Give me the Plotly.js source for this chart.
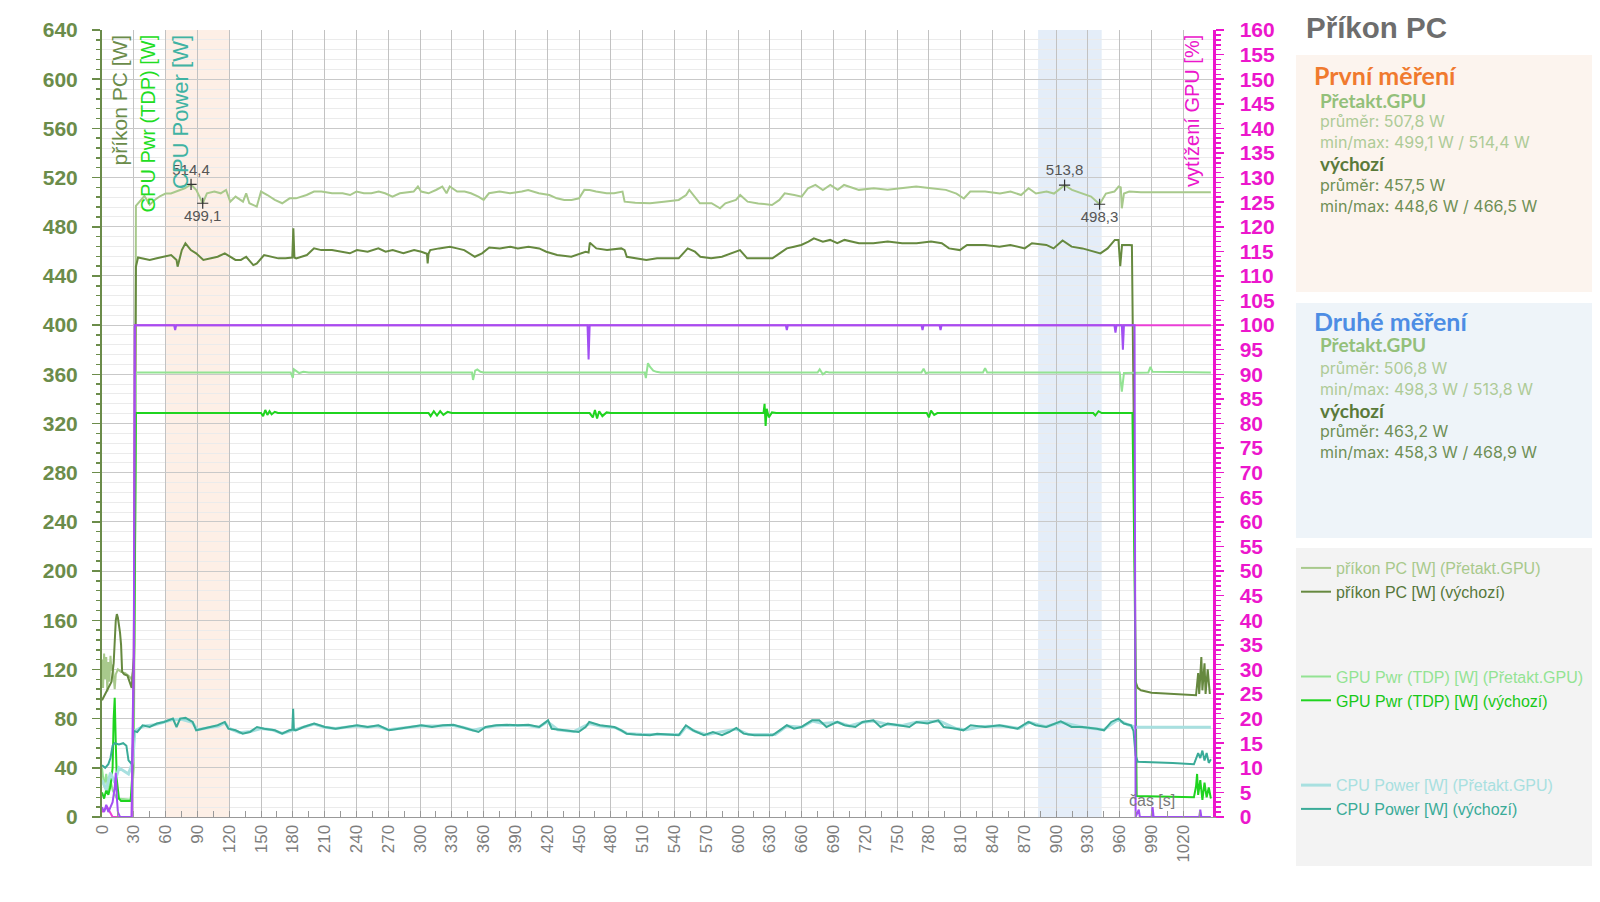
<!DOCTYPE html>
<html>
<head>
<meta charset="utf-8">
<script src="https://cdn.plot.ly/plotly-3.0.1.min.js"></script>
<style>html,body{margin:0;padding:0;background:#fff}#chart{width:1600px;height:902px}</style>
</head>
<body>
<div id="chart"></div>
<script>
// ---------- DATA (time [s], value) ----------
const pcOc = [[0,128],[1,105],[2,133],[3,112],[4,130],[5,102],[6,126],[7,110],[8,131],[9,119],[10,124],[12,104],[13,116],[15,120],[18,118],[22,117],[26,114],[28,112],[30,122],[31,140],[32,497],[35,500],[40,505],[45,498],[50,502],[55,505],[60,507],[65,507],[70,508.6],[75,510],[78,511.3],[84,514.4],[89,509.9],[95,499.1],[99,507.2],[106,508.6],[112,507.2],[117,509.9],[121,500.4],[126,504.5],[133,500.4],[136,507.2],[139,499.1],[146,496.4],[150,508.6],[156,505.8],[163,501.8],[170,499.1],[177,503.1],[183,503.1],[193,505.8],[200,508.6],[207,508.6],[217,507.2],[227,507.2],[234,505.8],[240,508.6],[247,507.2],[254,507.2],[261,508.6],[267,507.2],[274,504.5],[281,507.2],[294,508.6],[298,512.7],[301,508.6],[308,507.2],[315,509.9],[321,512.7],[325,507.2],[328,512.7],[335,508.6],[342,508.6],[348,507.2],[355,504.5],[360,501.8],[365,507.2],[375,508.6],[385,507.2],[396,508.6],[402,509.9],[412,507.2],[422,505.8],[429,503.1],[436,501.8],[443,501.8],[450,503.1],[455,510],[460,509.9],[466,508.6],[476,507.2],[483,507.2],[491,508.6],[493,500.4],[503,499.6],[517,499.1],[524,499.6],[530,500.4],[544,501.8],[551,505.8],[554,509.9],[559,504.5],[564,499.1],[575,499.1],[583,495],[588,499],[598,501.8],[602,505.8],[609,500.4],[619,499],[632,497.7],[639,501.8],[644,507.2],[653,505.8],[660,504.5],[666,511.3],[673,514],[680,509.9],[687,514],[694,510],[700,514],[714,510],[728,511.3],[741,510],[755,511.3],[768,512.7],[782,511.3],[796,510],[806,507],[813,503],[819,508.6],[833,508.6],[847,507],[857,508.6],[867,505.8],[874,511.3],[881,507],[891,508.6],[898,507],[908,513.8],[915,510],[925,507],[933,504.5],[941,498.3],[947,507],[955,508.6],[959,512.7],[961,512],[962,495],[964,507],[969,508.6],[980,508],[1000,508],[1020,508],[1046,508]];

const pcDef = [[0,95],[3,100],[6,104],[9,110],[11,125],[13,160],[14,165],[15,162],[17,150],[18,140],[19,118],[21,116],[24,115],[26,110],[28,105],[30,130],[31,300],[32,447.5],[34,455],[38.3,454.3],[45,453],[51.7,454.3],[58.5,455.6],[65.2,457],[70.3,453],[71.3,447.5],[75.3,461],[78.7,466.5],[83.8,461],[88.8,458.4],[95.6,453],[102.3,454.3],[109.1,455.6],[115.8,458.4],[120.8,455.6],[125.9,453],[131,453],[136,455.6],[142.7,448.8],[146.1,450.2],[152.9,457],[159.6,455.6],[166.3,454.3],[173.1,454.3],[179.5,455],[180.5,478.7],[181.5,455],[183.2,454.3],[193.3,457],[200,462.4],[206.8,461],[216.9,461],[227,459.7],[233.8,458.4],[240.5,461],[250.6,459.7],[260.7,462.4],[267.5,459.7],[274.2,461],[284.3,458.4],[294.4,461],[301.2,459.7],[306.5,458],[307.2,450.2],[308,458],[309.6,461],[318,462.4],[328.2,463.8],[334.9,462.4],[341.7,461],[351.7,455.6],[358.5,458.4],[365.3,463.2],[375.3,462.4],[385.4,463.8],[392.2,462.4],[402.3,463.8],[412.4,462.4],[419.1,459.7],[429.3,457],[442.7,455.6],[451.2,458.4],[456.2,459.7],[459,459],[460.2,467],[466.3,462.4],[476.4,461],[489.9,462.4],[493,461],[495,455.6],[503.4,454.3],[513.5,453],[523.6,454.3],[544,454.3],[552.5,462.4],[559.3,459.7],[564.4,455.6],[574.6,454.3],[584.8,455.6],[598.4,459.7],[601.8,461],[608.6,454.3],[632.4,454.3],[639.2,458.4],[646,462.4],[652.8,463.8],[659.6,465.2],[666.4,467.9],[671.5,470.6],[680,467.9],[686.8,469.3],[693.6,466.6],[700.4,469.3],[714,466.6],[727.6,466.6],[741.2,467.9],[754.8,466.6],[768.4,466.6],[782,468],[792.2,466.6],[799,462.4],[809.2,461],[816,465.2],[833,465.2],[846.6,463.8],[856.8,465.2],[870.4,462.4],[877.2,466.6],[890.8,465.2],[897.6,462.4],[906.1,468.9],[914.6,463.8],[924.8,462.4],[941.8,458.3],[948.6,462.4],[955.4,469.3],[958.8,469.3],[960.5,448],[962.2,465.2],[969,465.2],[971.5,465],[973.5,300],[975,110],[977,105],[980,103],[990,101],[1000,100.5],[1010,100],[1020,99.5],[1032,99],[1034,117],[1035,100],[1037,130],[1038,103],[1040,125],[1041,100],[1043,120],[1045,100]];

const gpuOc = [[0,40],[2,25],[4,35],[6,20],[8,30],[10,22],[12,18],[14,15],[28,14],[30,40],[31,200],[32,361.5],[178,361.5],[180,357],[181,364],[183,362.5],[186,361],[190,362],[195,361.5],[349,361.5],[350,355.4],[352,363],[354,364],[357,362],[360,361.5],[512,361.5],[513,357],[515,369],[517,366],[520,363],[523,362],[527,361.5],[675,361.5],[677,364],[680,360],[683,362],[686,361.5],[773,361.5],[775,364.5],[777,361],[780,361.5],[831,361.5],[833,365],[835,361.5],[960,361.5],[962,346],[964,361],[987,361.5],[989,366],[991,362],[1046,361.5]];

const gpuDef = [[0,20],[2,15],[4,22],[6,18],[8,25],[10,40],[11,80],[12,97],[13,60],[14,30],[16,15],[18,13],[27,13],[29,40],[31,200],[32,328.5],[150,328.5],[152,326],[154,331],[156,327],[158,330],[160,327.5],[163,329.5],[166,328.5],[308,328.5],[310,326],[313,330],[316,326.5],[319,330],[322,327],[326,329.5],[330,328.5],[460,328.5],[463,325],[465,331],[467,324],[469,330],[472,326],[476,329],[480,328.5],[624,328.5],[625,336],[626,318],[627,332],[629,325],[632,329],[636,328.5],[778,328.5],[780,325],[782,330.5],[785,327],[788,328.5],[935,328.5],[937,326.5],[940,330],[943,328.5],[972,328.5],[974,200],[976,17],[1000,16.3],[1030,16],[1032,25],[1033,35],[1034,18],[1036,30],[1038,14],[1040,28],[1042,16],[1044,24],[1046,15]];

const cpuOc = [[0,30],[4,22],[8,36],[12,28],[16,40],[20,38],[25,35],[29,45],[31,70],[35,72],[40,74],[50,75],[58,77],[66,79],[75,79.5],[85,77],[90,71],[100,72.5],[110,74],[116,76.5],[120,72],[130,68.5],[140,69.5],[150,72],[160,71],[170,68],[178,70],[190,73],[200,75.5],[210,73],[220,72],[230,73],[240,74],[250,73],[260,74],[270,71],[280,72],[290,73],[300,74],[320,74],[330,74.5],[340,73],[350,70.5],[360,72.5],[370,74],[380,74.5],[400,74.5],[412,73],[420,77.5],[430,71],[445,69.5],[460,76],[470,74],[485,72.5],[495,68],[510,67],[545,67],[551,73.5],[560,69.5],[570,67],[580,68.5],[598,71.5],[610,67],[635,67],[646,74],[660,73],[670,78],[680,76],[694,77],[705,74],[718,77],[728,78],[740,75.5],[755,74.5],[768,77],[790,78],[805,72],[815,71],[830,73.5],[850,74],[865,72],[875,77],[890,73.5],[905,77],[925,73],[945,71],[958,79],[968,75],[975,73],[1046,73]];

const cpuDef = [[0,42],[3,40],[6,43],[8,48],[10,58],[12,60],[16,59],[20,60],[23,58],[25,46],[28,43],[30,70],[33.2,69],[38.3,74.6],[45,73.3],[51.7,76],[58.5,77.3],[66.9,80],[70.3,73.2],[73.7,80],[78.8,80.6],[85.5,77.3],[88.8,70.5],[95.6,71.8],[102.3,73.2],[109.1,74.6],[115.8,77.3],[119.2,71.8],[126,70.5],[132.7,67.7],[139.5,69.1],[146.2,73.2],[153,71.8],[163.1,70.5],[169.9,67.7],[176.6,70.5],[179.5,71],[180.3,88],[181,71],[182.7,70.5],[190.1,73.2],[200.2,76],[210.3,73.2],[220.4,71.8],[230.5,73.2],[240.6,74.6],[250.7,73.2],[260.8,74.6],[270.9,70.5],[281,71.8],[291.1,73.2],[301.2,74.6],[311.3,73.2],[321.4,74.6],[331.5,75],[338.3,73.2],[348.4,70.5],[355.1,69.1],[361.9,73.2],[372,74.6],[382.1,75],[392.2,74.6],[402.3,75],[412.4,73.2],[420.8,78.6],[424.2,71.8],[436,70.5],[449.5,69.1],[456.2,73.2],[459.6,77.3],[469.7,74.6],[483.2,73.2],[489.9,70.5],[495,67.7],[503.4,67],[516.9,66.5],[523.6,67.7],[544,66.5],[550.8,74.6],[557.6,70.5],[567.8,66.5],[576.3,69.1],[584.8,66.5],[591.6,69.1],[598.4,72.4],[605.2,67.8],[615.4,66.5],[632.4,66.5],[639.2,70.5],[646,74.6],[652.8,71.8],[659.6,73.2],[669.8,78.6],[676.6,78.6],[683.4,73.2],[693.6,77.3],[700.4,74.6],[710.6,73.2],[717.4,77.3],[727.6,78.6],[734.4,73.2],[741.2,76],[751.4,74.6],[761.6,73.2],[768.4,77.3],[778.6,76],[788.8,78.6],[793.9,73.2],[805.8,71.8],[812.6,70.5],[819.4,74.6],[833,73.2],[846.6,74.6],[856.8,73.2],[863.6,71.8],[873.8,77.3],[880.6,74.6],[890.8,73.2],[904.4,77.8],[914.6,73.2],[924.8,73.2],[938.4,71.8],[945.2,70.5],[952,77.3],[958.8,80],[963.9,76],[970.7,74.6],[973,70],[975,50],[977,45],[990,44.8],[1010,44],[1030,42.9],[1032,47],[1034,52],[1036,48],[1038,54],[1040,46],[1042,52],[1044,44],[1046,47]];

// GPU load [%] (right axis)
const loadOc = [[0,1],[5,2],[10,0],[28,0],[30,30],[31,100],[1046,100]];
const loadDef = [[0,2],[2,1],[4,2.5],[6,1],[8,2],[10,3],[12,6],[13,9],[14,4],[15,1],[17,0],[28,0],[29,20],[30,33],[31,100],[68,100],[69,99],[70,100],[458,100],[459,93],[460,100],[645,100],[646,99],[647,100],[773,100],[774,99],[775,100],[790,100],[791,99],[792,100],[955,100],[956,98.5],[957,100],[962,100],[963,95],[964,100],[974,100],[975,0],[978,1.5],[979,0],[990,0],[991,2],[992,0],[1035,0],[1036,1.5],[1037,0],[1046,0]];

// min / max markers
const markT = [84, 95, 908, 941];
const markW = [514.4, 499.1, 513.8, 498.3];
const markLbl = ['514,4', '499,1', '513,8', '498,3'];
const markPos = ['top center', 'bottom center', 'top center', 'bottom center'];

// shaded measurement windows [s]
const win1 = [60, 120];
const win2 = [883, 943];

const xTicks = [0,30,60,90,120,150,180,210,240,270,300,330,360,390,420,450,480,510,540,570,600,630,660,690,720,750,780,810,840,870,900,930,960,990,1020];

const stats1 = {oc: ['průměr: 507,8 W', 'min/max: 499,1 W / 514,4 W'], def: ['průměr: 457,5 W', 'min/max: 448,6 W / 466,5 W']};
const stats2 = {oc: ['průměr: 506,8 W', 'min/max: 498,3 W / 513,8 W'], def: ['průměr: 463,2 W', 'min/max: 458,3 W / 468,9 W']};

// ---------- STYLE ----------
const C = {
  pcOc: '#a8c98c', pcDef: '#66893f',
  gpuOc: '#93e393', gpuDef: '#1fd41f',
  cpuOc: '#a8e0e0', cpuDef: '#3aab98',
  loadOc: '#ea3fd6', loadDef: '#a24ff2',
  left: '#6b8c4a', right: '#ec16cc'
};
const FONT = 'Liberation Sans, Arial, sans-serif';
const L = 102, R = 1213, T = 30, B = 817;
const pxX = x => (x - L) / (R - L);
const pxY = y => (B - y) / (B - T);

const xs = a => a.map(p => p[0]);
const ys = a => a.map(p => p[1]);
const span = (c, s) => '<span style="color:' + c + '">' + s + '</span>';

function line(arr, name, color, width, group, axis, showlegend) {
  return {
    type: 'scatter', mode: 'lines', x: xs(arr), y: ys(arr),
    name: name, legendgroup: group, showlegend: showlegend,
    yaxis: axis, line: {color: color, width: width, shape: 'linear'},
    hoverinfo: 'skip'
  };
}

const traces = [
  line(pcOc, span(C.pcOc, 'příkon PC [W] (Přetakt.GPU)'), C.pcOc, 2, 'pc', 'y', true),
  line(pcDef, span('#56773a', 'příkon PC [W] (výchozí)'), C.pcDef, 2, 'pc', 'y', true),
  line(gpuOc, span(C.gpuOc, 'GPU Pwr (TDP) [W] (Přetakt.GPU)'), C.gpuOc, 2, 'gpu', 'y', true),
  line(gpuDef, span('#18c818', 'GPU Pwr (TDP) [W] (výchozí)'), C.gpuDef, 2, 'gpu', 'y', true),
  line(cpuOc, span(C.cpuOc, 'CPU Power [W] (Přetakt.GPU)'), C.cpuOc, 3, 'cpu', 'y', true),
  line(cpuDef, span(C.cpuDef, 'CPU Power [W] (výchozí)'), C.cpuDef, 2, 'cpu', 'y', true),
  line(loadOc, 'vytížení GPU [%] (Přetakt.GPU)', C.loadOc, 2, 'load', 'y2', false),
  line(loadDef, 'vytížení GPU [%] (výchozí)', C.loadDef, 2, 'load', 'y2', false),
  {
    type: 'scatter', mode: 'markers+text', x: markT, y: markW, text: markLbl,
    textposition: markPos, showlegend: false, hoverinfo: 'skip',
    textfont: {family: FONT, size: 15, color: '#555555'},
    marker: {symbol: 'cross-thin', size: 8, color: '#333333', line: {width: 1.2, color: '#333333'}}
  }
];

const shapes = [
  {type: 'rect', xref: 'x', yref: 'paper', x0: win1[0], x1: win1[1], y0: 0, y1: 1, fillcolor: 'rgba(247,180,140,0.22)', line: {width: 0}, layer: 'below'},
  {type: 'rect', xref: 'x', yref: 'paper', x0: win2[0], x1: win2[1], y0: 0, y1: 1, fillcolor: 'rgba(170,200,232,0.32)', line: {width: 0}, layer: 'below'},
  {type: 'rect', xref: 'paper', yref: 'paper', x0: pxX(1296), x1: pxX(1592), y0: pxY(55), y1: pxY(292), fillcolor: '#fcf4ee', line: {width: 0}},
  {type: 'rect', xref: 'paper', yref: 'paper', x0: pxX(1296), x1: pxX(1592), y0: pxY(303), y1: pxY(538), fillcolor: '#eef4f9', line: {width: 0}},
  {type: 'rect', xref: 'paper', yref: 'paper', x0: pxX(1296), x1: pxX(1592), y0: pxY(548), y1: pxY(866), fillcolor: '#f3f3f3', line: {width: 0}}
];

function txt(x, y, s, size, color, opts) {
  return Object.assign({
    xref: 'paper', yref: 'paper', x: pxX(x), y: pxY(y), text: s, showarrow: false,
    xanchor: 'left', yanchor: 'middle', font: {family: FONT, size: size, color: color}
  }, opts || {});
}
const HEAD = 'Lato, Liberation Sans, sans-serif';
const BODY = 'Inter, Liberation Sans, sans-serif';
function head(x, y, s, size, color) { const a = txt(x, y, s, size, color); a.font.family = HEAD; a.font.weight = 'bold'; return a; }
function body(x, y, s, size, color) { const a = txt(x, y, s, size, color); a.font.family = BODY; return a; }

function vtitle(xc, s, size, color) {
  return {xref: 'paper', yref: 'paper', x: pxX(xc), y: pxY(33), text: s, showarrow: false,
    textangle: -90, xanchor: 'center', yanchor: 'top', font: {family: FONT, size: size, color: color}};
}

const annotations = [
  txt(1304, 27, '<b>Příkon PC</b>', 29.5, '#6d6d6d'),
  head(1312, 75, 'První měření', 25, '#f07a2e'),
  head(1318, 101, 'Přetakt.GPU', 19, '#93c07a'),
  body(1318, 121, stats1.oc[0], 16, '#aecb97'),
  body(1318, 142, stats1.oc[1], 16, '#aecb97'),
  head(1318, 164, 'výchozí', 19, '#5a7a3a'),
  body(1318, 185, stats1.def[0], 16, '#6f8f55'),
  body(1318, 206, stats1.def[1], 16, '#6f8f55'),
  head(1312, 321, 'Druhé měření', 25, '#4d8de4'),
  head(1318, 345, 'Přetakt.GPU', 19, '#93c07a'),
  body(1318, 368, stats2.oc[0], 16, '#aecb97'),
  body(1318, 389, stats2.oc[1], 16, '#aecb97'),
  head(1318, 410, 'výchozí', 19, '#5a7a3a'),
  body(1318, 431, stats2.def[0], 16, '#6f8f55'),
  body(1318, 452, stats2.def[1], 16, '#6f8f55'),
  vtitle(119, 'příkon PC [W]', 21, C.left),
  vtitle(147.5, 'GPU Pwr (TDP) [W]', 20, '#22dd22'),
  vtitle(180, 'CPU Power [W]', 22, '#40b3a3'),
  vtitle(1192, 'vytížení GPU [%]', 20, C.right),
  txt(1152, 800, 'čas [s]', 16, '#7a7a7a', {xanchor: 'center'})
];

const layout = {
  width: 1600, height: 902,
  margin: {l: L, r: 1600 - R, t: T, b: 902 - B, autoexpand: false},
  paper_bgcolor: '#ffffff', plot_bgcolor: '#ffffff',
  font: {family: FONT},
  showlegend: true,
  legend: {
    x: pxX(1296), y: pxY(551), xanchor: 'left', yanchor: 'top',
    bgcolor: 'rgba(0,0,0,0)', borderwidth: 0,
    font: {family: FONT, size: 16, color: '#666'},
    traceorder: 'grouped', tracegroupgap: 61, itemwidth: 30
  },
  xaxis: {
    range: [0, 1048], tickmode: 'array', tickvals: xTicks, ticktext: xTicks.map(String),
    tickangle: -90, tickfont: {family: FONT, size: 17, color: '#7d7d7d'},
    showgrid: true, gridcolor: '#c2c2c2', gridwidth: 1,
    ticks: 'inside', ticklen: 6, tickcolor: '#999',
    minor: {dtick: 15, tick0: 0, ticks: 'inside', ticklen: 6, tickcolor: '#999', showgrid: false},
    showline: true, linecolor: '#999', linewidth: 1, zeroline: false
  },
  yaxis: {
    range: [0, 640], dtick: 40, tick0: 0,
    tickfont: {family: FONT, size: 21, color: C.left, weight: 'bold'},
    showgrid: true, gridcolor: '#c9c9c9', gridwidth: 1,
    ticks: 'outside', ticklen: 8, tickcolor: C.left, tickwidth: 1.5,
    ticklabelstandoff: 10,
    minor: {dtick: 8, tick0: 0, ticks: 'outside', ticklen: 4, tickcolor: C.left, showgrid: true, gridcolor: '#ebebeb', gridwidth: 1},
    showline: true, linecolor: C.left, linewidth: 2, zeroline: false
  },
  yaxis2: {
    range: [0, 160], dtick: 5, tick0: 0, overlaying: 'y', side: 'right',
    tickfont: {family: FONT, size: 21, color: C.right, weight: 'bold'},
    showgrid: false, ticks: 'outside', ticklen: 8, tickcolor: C.right, tickwidth: 1.5,
    ticklabelstandoff: 12,
    minor: {dtick: 1, tick0: 0, ticks: 'outside', ticklen: 5, tickcolor: C.right, showgrid: false},
    showline: true, linecolor: C.right, linewidth: 2.5, zeroline: false
  },
  shapes: shapes,
  annotations: annotations
};

Plotly.newPlot('chart', traces, layout, {displayModeBar: false, staticPlot: true});
</script>
</body>
</html>
